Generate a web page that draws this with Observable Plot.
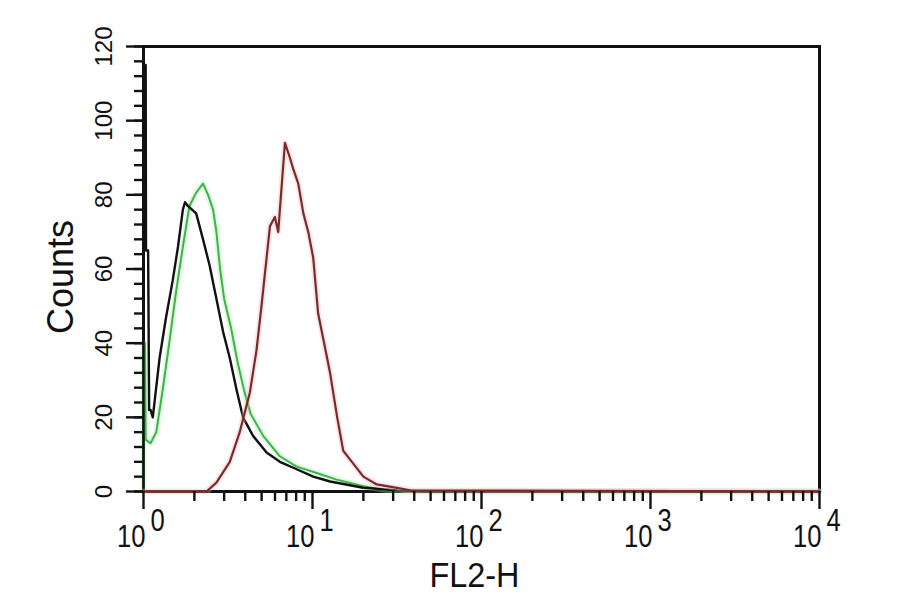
<!DOCTYPE html>
<html><head><meta charset="utf-8">
<script src="https://cdn.jsdelivr.net/npm/d3@7"></script>
<script src="https://cdn.jsdelivr.net/npm/@observablehq/plot@0.6"></script>
<style>body{margin:0;background:#fff}</style>
</head><body><div id="chart"></div>
<script>
// FL2-H channel values (x) and counts (y) for each histogram
const blackX = [1, 1, 1.03, 1.035, 1.065, 1.08, 1.10, 1.135, 1.245, 1.36, 1.49, 1.60, 1.71, 1.76, 1.83, 2.05, 2.25, 2.46, 2.70, 2.96, 3.24, 3.55, 3.88, 4.45, 5.35, 6.41, 8.06, 10.1, 12.7, 20.0, 31.6, 45, 10000];
const blackY = [0, 115, 115, 65, 65, 22, 22, 20, 36, 47, 57, 66, 76, 78, 77, 75, 68, 61, 52, 43, 36, 27.5, 20, 15, 10.5, 8, 6, 4, 2.7, 1, 0.3, 0, 0];

const greenX = [1, 1, 1.02, 1.03, 1.10, 1.19, 1.30, 1.43, 1.56, 1.71, 1.87, 2.05, 2.25, 2.41, 2.58, 2.70, 2.84, 3.0, 3.3, 3.6, 3.95, 4.3, 5.11, 6.41, 8.06, 10.6, 13.9, 20.0, 26.3, 35, 10000];
const greenY = [0, 40, 40, 14, 13, 16, 27.5, 41, 54, 66, 77, 80.6, 83, 80, 76, 70, 60, 52, 44, 35, 27, 21, 15, 9.5, 6.7, 5, 3.2, 1.4, 0.5, 0, 0];

const redX = [1, 2.36, 2.70, 3.24, 3.71, 4.26, 4.66, 4.99, 5.35, 5.60, 5.99, 6.27, 6.56, 6.87, 7.35, 7.69, 8.24, 8.83, 9.44, 10.1, 10.8, 11.6, 12.7, 14.0, 15.2, 16.7, 20.0, 24.0, 31.6, 37.9, 10000];
const redY = [0, 0, 2.4, 8, 16, 26.7, 38, 50, 63, 71.5, 74, 70, 82, 94, 90, 87, 83, 75, 70, 63, 48, 41, 32, 20, 11, 8.6, 4, 1.9, 1, 0.3, 0];

// axis ticks and labels
const xMajor = [1, 10, 100, 1000, 10000];
const xExp = ["0", "1", "2", "3", "4"];
const xMinor = [2,3,4,5,6,7,8,9, 20,30,40,50,60,70,80,90, 200,300,400,500,600,700,800,900, 2000,3000,4000,5000,6000,7000,8000,9000];
const yMajor = [0, 20, 40, 60, 80, 100, 120];
const yMinor = [0,4,8,12,16,20,24,28,32,36,40,44,48,52,56,60,64,68,72,76,80,84,88,92,96,100,104,108,112,116,120];
const xTitle = "FL2-H";
const yTitle = "Counts";

const toRows = (xs, ys) => xs.map((x, i) => ({x, y: ys[i]}));
const black = toRows(blackX, blackY);
const green = toRows(greenX, greenY);
const red = toRows(redX, redY);

const font = "'Liberation Sans', Arial, sans-serif";

const chart = Plot.plot({
  width: 900, height: 594,
  marginLeft: 143, marginRight: 81, marginTop: 46, marginBottom: 103,
  x: {type: "log", domain: [1, 10000]},
  y: {domain: [0, 120]},
  style: {background: "white", overflow: "visible"},
  marks: [
    Plot.frame({stroke: "#111", strokeWidth: 3}),
    Plot.line(green, {x: "x", y: "y", stroke: "#a8eaa8", strokeWidth: 6, strokeOpacity: 0.35}),
    Plot.line(green, {x: "x", y: "y", stroke: "#3cb44b", strokeWidth: 2}),
    Plot.line(black, {x: "x", y: "y", stroke: "#111", strokeWidth: 2.4}),
    Plot.line(red, {x: "x", y: "y", stroke: "#f4b8b8", strokeWidth: 6, strokeOpacity: 0.35}),
    Plot.line(red, {x: "x", y: "y", stroke: "#7a2a2e", strokeWidth: 2.2}),
    Plot.axisY(yMinor, {tickSize: 9, tickFormat: () => "", label: null, strokeWidth: 2.4, stroke: "#111"}),
    Plot.axisY(yMajor, {tickSize: 17, tickFormat: () => "", label: null, strokeWidth: 2.4, stroke: "#111"}),
    Plot.text(yMajor, {y: d => d, text: d => String(d), frameAnchor: "left", dx: -32, rotate: -90,
      textAnchor: "middle", lineAnchor: "bottom", fontSize: 24, fontFamily: font, fill: "#111"}),
    Plot.axisX(xMinor, {tickSize: 10, tickFormat: () => "", label: null, strokeWidth: 2.4, stroke: "#111"}),
    Plot.axisX(xMajor, {tickSize: 18, tickFormat: () => "", label: null, strokeWidth: 2.4, stroke: "#111"}),
    Plot.text(xMajor, {x: d => d, text: () => "10", frameAnchor: "bottom", dx: 2, dy: 44.8, textAnchor: "end",
      lineAnchor: "middle", fontSize: 32, fontFamily: font, fill: "#111"}),
    Plot.text(xMajor, {x: d => d, text: (d, i) => xExp[i], frameAnchor: "bottom", dx: 7, dy: 28.8, textAnchor: "start",
      lineAnchor: "middle", fontSize: 32, fontFamily: font, fill: "#111"}),
    Plot.text([xTitle], {text: d => d, frameAnchor: "bottom", dx: -7, dy: 83.5, textAnchor: "middle",
      lineAnchor: "middle", fontSize: 36, fontFamily: font, fill: "#111"}),
    Plot.text([yTitle], {text: d => d, frameAnchor: "left", dx: -71, dy: 8, rotate: -90, textAnchor: "middle",
      lineAnchor: "bottom", fontSize: 36, fontFamily: font, fill: "#111"})
  ]
});
// condensed lettering as in the reference (no narrow font installed)
chart.querySelectorAll("g[font-size]").forEach(g => {
  const fs = g.getAttribute("font-size");
  const k = fs === "32" ? 0.8 : (fs === "36" && !g.querySelector("text[transform*=rotate]")) ? 0.9 : null;
  if (k == null) return;
  g.querySelectorAll("text").forEach(el => {
    const t = el.getAttribute("transform") || "";
    el.setAttribute("transform", t + ` scale(${k},1)`);
  });
});
document.getElementById("chart").appendChild(chart);
</script>
</body></html>
